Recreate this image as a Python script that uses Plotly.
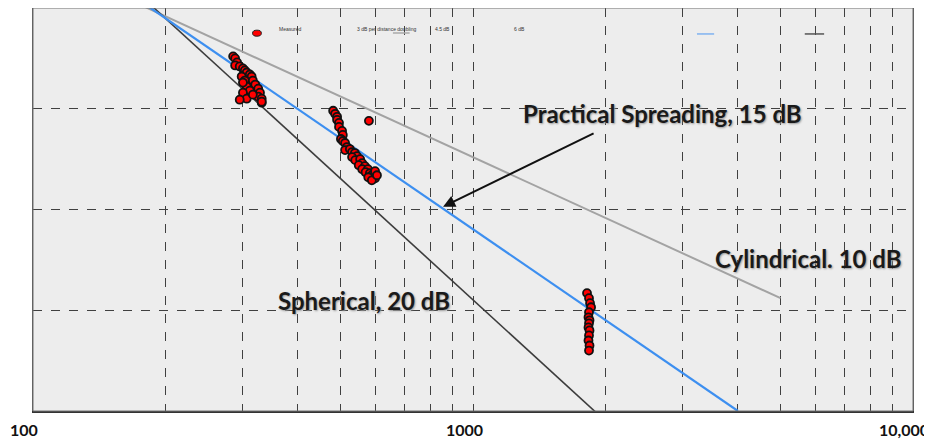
import plotly.graph_objects as go

# ---- data (distance in m, level in dB) ----
meas_x = [285, 288, 291, 288, 295, 300, 303, 306, 311, 314, 298, 303, 316, 320, 306,
          325, 311, 328, 300, 325, 331, 306, 295, 316, 331, 331, 300,
          481, 486, 491, 491, 496, 496, 504, 506, 501, 506, 512, 517, 512, 525, 531,
          539, 545, 531, 540, 554, 560, 550, 568, 560, 577, 570, 583, 589, 578, 599,
          589, 599, 605, 580,
          1816, 1835, 1845, 1855, 1835, 1830, 1840, 1835, 1830, 1840, 1835, 1830,
          1840, 1835]
meas_y = [147.6, 147.5, 147.3, 147.15, 147.1, 147.0, 146.9, 146.8, 146.7, 146.6, 146.6,
          146.4, 146.4, 146.2, 146.1, 146.0, 145.9, 145.8, 145.8, 145.6, 145.5, 145.5,
          145.45, 145.7, 145.3, 145.35, 146.3,
          144.9, 144.75, 144.6, 144.45, 144.3, 144.1, 143.9, 143.7, 143.5, 143.4, 143.3,
          143.1, 142.95, 143.0, 142.85, 142.8, 142.65, 142.6, 142.45, 142.5, 142.3,
          142.2, 142.15, 142.0, 142.0, 141.85, 141.8, 141.7, 141.6, 141.55, 141.45,
          141.9, 141.7, 144.4,
          135.85, 135.6, 135.35, 135.15, 134.9, 134.65, 134.5, 134.35, 134.15, 134.0,
          133.75, 133.5, 133.25, 133.0]

spherical_x = [100, 2000]
spherical_y = [155.5, 129.5]
practical_x = [100, 4000]
practical_y = [154.0, 130.0]
cylindrical_x = [100, 5000]
cylindrical_y = [152.6, 135.6]

x_gridvals = [100, 200, 300, 400, 500, 600, 700, 800, 900,
              1000, 2000, 3000, 4000, 5000, 6000, 7000, 8000, 9000, 10000]
x_label_vals = [100, 1000, 10000]
x_label_text = ["100", "1000", "10,000"]
y_range = [130, 150]

legend_labels = ["Measured", "3 dB per distance doubling", "4.5 dB", "6 dB"]
label_practical = "Practical Spreading, 15 dB"
label_cylindrical = "Cylindrical. 10 dB"
label_spherical = "Spherical, 20 dB"

# ---- figure ----
fig = go.Figure()
fig.add_trace(go.Scatter(x=cylindrical_x, y=cylindrical_y, mode="lines",
                         line=dict(color="#a3a3a3", width=2), showlegend=False))
fig.add_trace(go.Scatter(x=spherical_x, y=spherical_y, mode="lines",
                         line=dict(color="#3c3c3c", width=1.6), showlegend=False))
fig.add_trace(go.Scatter(x=practical_x, y=practical_y, mode="lines",
                         line=dict(color="#3d8ff0", width=2.2), showlegend=False))
fig.add_trace(go.Scatter(x=meas_x, y=meas_y, mode="markers",
                         marker=dict(symbol="circle", size=8, color="#ff0000",
                                     line=dict(color="#111111", width=1.8)),
                         showlegend=False))

grid = dict(showgrid=True, gridcolor="#404040", gridwidth=1, griddash="dash")
fig.update_xaxes(type="log", range=[2, 4], tickvals=x_gridvals,
                 showticklabels=False, ticks="", showline=True, linecolor="#333333",
                 linewidth=2, zeroline=False, automargin=False, **grid)
fig.update_yaxes(range=y_range, dtick=5, showticklabels=False, ticks="",
                 showline=True, linecolor="#555555", linewidth=1, mirror=True,
                 zeroline=False, automargin=False, **grid)

# x tick labels (placed slightly left of their ticks, as in the original)
import math
for v, t in zip(x_label_vals, x_label_text):
    fig.add_annotation(x=math.log10(v), y=0, xref="x", yref="paper", text=t,
                       showarrow=False, xanchor="center", yanchor="middle",
                       xshift=-9, yshift=-18,
                       font=dict(family="Lato", size=16, color="#111111", weight=700))

# legend box and items (paper coordinates)
shapes = [
    dict(type="rect", xref="paper", yref="paper", x0=0.2307, x1=0.969, y0=0.8985, y1=0.975,
         fillcolor="#ededed", line=dict(width=0), layer="between"),
    dict(type="rect", xref="paper", yref="paper", x0=0, x1=1, y0=0, y1=1,
         line=dict(color="#707070", width=1), layer="above"),
    dict(type="circle", xref="paper", yref="paper", x0=0.2495, x1=0.2595, y0=0.930, y1=0.945,
         fillcolor="#ff0000", line=dict(color="#222222", width=1)),
    dict(type="line", xref="paper", yref="paper", x0=0.409, x1=0.428, y0=0.938, y1=0.938,
         line=dict(color="#aaaaaa", width=1.5)),
    dict(type="line", xref="paper", yref="paper", x0=0.7545, x1=0.774, y0=0.9356, y1=0.9356,
         line=dict(color="#7fb2f0", width=1.5)),
    dict(type="line", xref="paper", yref="paper", x0=0.877, x1=0.899, y0=0.9356, y1=0.9356,
         line=dict(color="#555555", width=1.5)),
]
fig.update_layout(shapes=shapes)

leg_x = [0.2773, 0.366, 0.4545, 0.544]
for lx, txt in zip(leg_x, legend_labels):
    fig.add_annotation(x=lx, y=0.948, xref="paper", yref="paper", text=txt,
                       showarrow=False, xanchor="left", yanchor="middle",
                       font=dict(family="Liberation Sans", size=5, color="#333333"))

big_font = dict(family="Lato", size=24, color="#1a1a1a", weight=700,
                shadow="1px 1px 2px #9a9a9a")
fig.add_annotation(x=0.715, y=0.7376, xref="paper", yref="paper", text=label_practical,
                   showarrow=False, xanchor="center", yanchor="middle", font=big_font)
fig.add_annotation(x=0.881, y=0.379, xref="paper", yref="paper", text=label_cylindrical,
                   showarrow=False, xanchor="center", yanchor="middle", font=big_font)
fig.add_annotation(x=0.376, y=0.275, xref="paper", yref="paper", text=label_spherical,
                   showarrow=False, xanchor="center", yanchor="middle", font=big_font)

# arrow pointing to practical spreading line
fig.add_annotation(x=0.466, y=0.507, xref="paper", yref="paper", text="",
                   showarrow=True, arrowhead=2, arrowsize=1.2, arrowwidth=2,
                   arrowcolor="#111111", ax=152, ay=-74, standoff=0)

# page body has an 8px margin, so the figure is offset by 8px in the window
fig.update_layout(width=924, height=432,
                  margin=dict(l=25, r=19, t=0, b=29),
                  plot_bgcolor="#ededed", paper_bgcolor="#ffffff",
                  showlegend=False)

fig.write_html("out.html")
